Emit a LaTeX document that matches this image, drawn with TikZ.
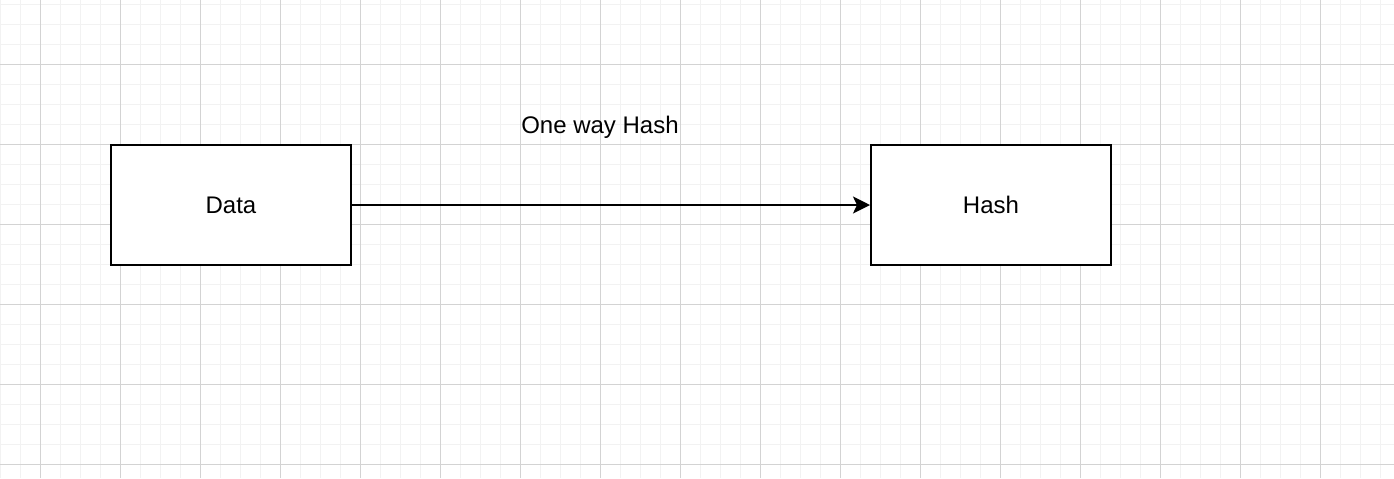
\documentclass[tikz,border=0pt]{standalone}
\usepackage{fontspec}
\setmainfont{Liberation Sans}
\usepackage{tikz}
\usetikzlibrary{arrows.meta,positioning}
\definecolor{minorgray}{HTML}{F2F2F2}
\definecolor{majorgray}{HTML}{D3D3D3}
\tikzset{
  minorline/.style={draw=minorgray, line width=0.5pt},
  majorline/.style={draw=majorgray, line width=0.5pt},
  hashbox/.style={draw, fill=white, line width=1pt, minimum width=120pt, minimum height=60pt, inner sep=0pt, font=\fontsize{12}{14}\selectfont},
  flowlabel/.style={inner sep=0pt, font=\fontsize{12}{14}\selectfont},
  flowarrow/.style={line width=1pt, -{Stealth[length=8.5pt, width=8.5pt, inset=2pt]}}
}
\begin{document}
\begin{tikzpicture}[x=0.5pt, y=-0.5pt]
  \useasboundingbox (0,0) rectangle (1394,478);
  \fill[white] (0,0) rectangle (1394,478);
  % grid
  \foreach \x in {0,20,...,1380} \draw[minorline] (\x,0) -- (\x,478);
  \foreach \y in {4,24,...,464} \draw[minorline] (0,\y) -- (1394,\y);
  \foreach \x in {40,120,...,1320} \draw[majorline] (\x,0) -- (\x,478);
  \foreach \y in {64,144,...,464} \draw[majorline] (0,\y) -- (1394,\y);
  % boxes
  \node[hashbox] (data) at (231,205) {Data};
  \node[hashbox] (hash) at (991,205) {Hash};
  \node[flowlabel] (oneway) at (600,127) {One way Hash};
  \draw[flowarrow] (data) -- (hash);
\end{tikzpicture}
\end{document}
